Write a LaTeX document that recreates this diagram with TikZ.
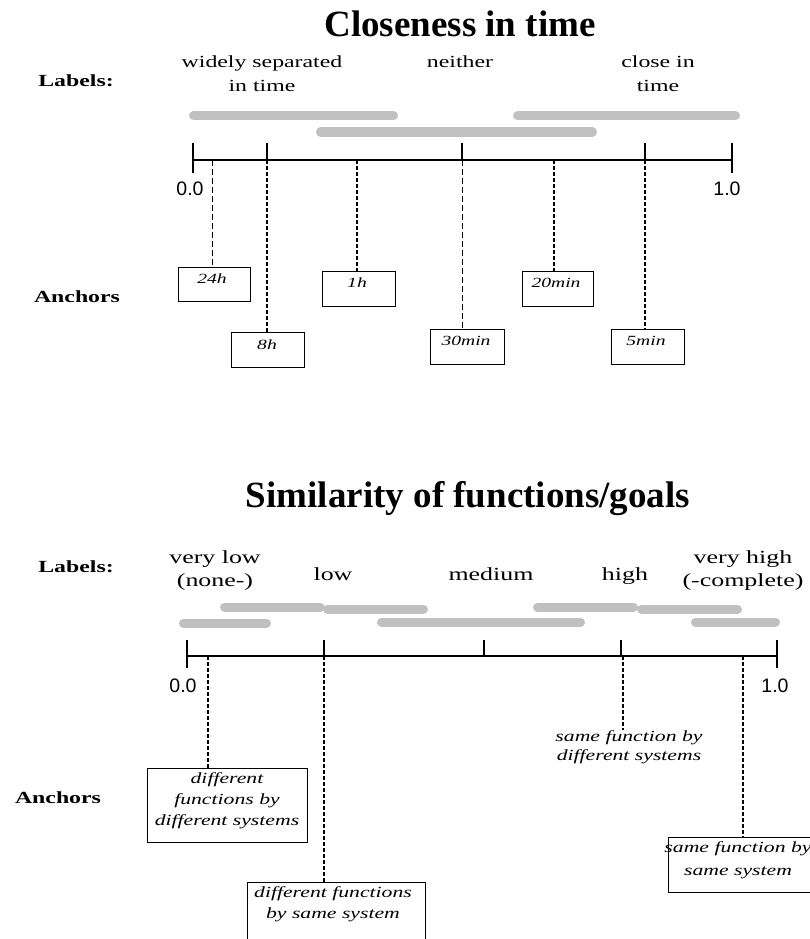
\documentclass[tikz,border=0pt]{standalone}
\usepackage{fontspec}
\setmainfont{Liberation Serif}
\newfontfamily\lblfont[FakeStretch=1.4]{Liberation Serif}
\newfontfamily\itfont[FakeStretch=1.4]{Liberation Serif}
\newfontfamily\numfont{Liberation Sans}
\definecolor{bargray}{RGB}{192,192,192}
\begin{document}
\begin{tikzpicture}[x=1pt,y=-1pt,
  bar/.style={line width=9pt, line cap=round, draw=bargray},
  axis/.style={line width=1.3pt},
  thickdash/.style={line width=2.2pt, dash pattern=on 4pt off 2pt},
  thindash/.style={line width=0.8pt, dash pattern=on 6pt off 3pt},
  abox/.style={draw, line width=1.2pt, inner sep=0pt, anchor=north west},
  ttl/.style={font=\fontsize{37}{40}\selectfont\bfseries, anchor=base, inner sep=0pt},
  lbl/.style={font=\lblfont\fontsize{17}{24}\selectfont, anchor=base, inner sep=0pt, align=center},
  lblb/.style={font=\lblfont\fontsize{18.5}{23}\selectfont, anchor=base, inner sep=0pt, align=center},
  head/.style={font=\lblfont\bfseries\fontsize{17}{24}\selectfont, anchor=base, inner sep=0pt},
  itx/.style={font=\itfont\itshape\fontsize{14}{20}\selectfont, anchor=base, inner sep=0pt},
  itb/.style={font=\itfont\itshape\fontsize{15.5}{21}\selectfont, anchor=base, inner sep=0pt, align=center},
  num/.style={font=\numfont\fontsize{19.5}{22}\selectfont, anchor=base, inner sep=0pt}]
\useasboundingbox (0,0) rectangle (810,939);

% ---------------- Closeness in time ----------------
\node[ttl] (t1) at (460,37) {Closeness in time};
\node[head] (lab1) at (76,87) {Labels:};
\node[lbl] (wst) at (262,92) {widely separated\\in time};
\node[lbl] (nei) at (460,68) {neither};
\node[lbl] (cit) at (658,92) {close in\\time};

\draw[bar] (193.5,116) -- (393.5,116);
\draw[bar] (320.5,132) -- (592.5,132);
\draw[bar] (517.5,116) -- (735.5,116);

\coordinate (L0) at (193,160);
\coordinate (L1) at (732,160);
\coordinate (p24) at (212,160);
\coordinate (p8) at (267,160);
\coordinate (p1) at (357,160);
\coordinate (p30) at (462,160);
\coordinate (p20) at (554,160);
\coordinate (p5) at (645,160);
\draw[axis] (L0) -- (L1);
\draw[axis] (193,143) -- (193,173);
\draw[axis] (732,143) -- (732,173);
\draw[axis] (267,143) -- (p8);
\draw[axis] (462,143) -- (p30);
\draw[axis] (645,143) -- (p5);
\node[num] (z1) at (190,195) {0.0};
\node[num] (o1) at (727,195) {1.0};

\node[head] (anc1) at (77,302) {Anchors};

\node[abox, minimum width=72pt, minimum height=34pt] (b24) at (178,267) {};
\node[abox, minimum width=73pt, minimum height=35pt] (b8) at (231,332) {};
\node[abox, minimum width=73pt, minimum height=35pt] (b1) at (322,271) {};
\node[abox, minimum width=74pt, minimum height=35pt] (b30) at (430,329) {};
\node[abox, minimum width=71pt, minimum height=35pt] (b20) at (522,271) {};
\node[abox, minimum width=73pt, minimum height=35pt] (b5) at (611,329) {};
\node[itx] (x24) at (212,283) {24h};
\node[itx] (x8) at (267,349) {8h};
\node[itx] (x1) at (357,287) {1h};
\node[itx] (x30) at (466,345) {30min};
\node[itx] (x20) at (556,287) {20min};
\node[itx] (x5) at (646,345) {5min};

\draw[thindash] (p24) -- (p24 |- b24.north);
\draw[thickdash] (p8) -- (p8 |- b8.north);
\draw[thickdash] (p1) -- (p1 |- b1.north);
\draw[thindash] (p30) -- (p30 |- b30.north);
\draw[thickdash] (p20) -- (p20 |- b20.north);
\draw[thickdash] (p5) -- (p5 |- b5.north);

% ---------------- Similarity of functions/goals ----------------
\node[ttl] (t2) at (468,507) {Similarity of functions/goals};
\node[head] (lab2) at (76,572) {Labels:};
\node[lblb] (vl) at (215,586) {very low\\(none-)};
\node[lblb] (lo) at (333,580) {low};
\node[lblb] (me) at (491,580) {medium};
\node[lblb] (hi) at (625,580) {high};
\node[lblb] (vh) at (743,586) {very high\\(-complete)};

\draw[bar] (224.5,607) -- (320.5,607);
\draw[bar] (327.5,609) -- (423.5,609);
\draw[bar] (537.5,607) -- (633.5,607);
\draw[bar] (641.5,609) -- (737.5,609);
\draw[bar] (183.5,623) -- (266.5,623);
\draw[bar] (381.5,622) -- (580.5,622);
\draw[bar] (695.5,622) -- (775.5,622);

\coordinate (M0) at (187,656);
\coordinate (M1) at (777,656);
\coordinate (q1) at (208,656);
\coordinate (q2) at (324,656);
\coordinate (q3) at (623,656);
\coordinate (q4) at (743,656);
\draw[axis] (M0) -- (M1);
\draw[axis] (187,640) -- (187,668);
\draw[axis] (777,640) -- (777,668);
\draw[axis] (324,640) -- (324,656);
\draw[axis] (484,640) -- (484,656);
\draw[axis] (621,640) -- (621,656);
\node[num] (z2) at (183,692) {0.0};
\node[num] (o2) at (775,692) {1.0};

\node[head] (anc2) at (58,803) {Anchors};

\node[abox, minimum width=160pt, minimum height=74pt] (B1) at (147,768) {};
\node[abox, minimum width=178pt, minimum height=57pt] (B2) at (247,882) {};
\node[abox, minimum width=145pt, minimum height=55pt] (B3) at (668,837) {};
\node[itb] (T1) at (227,825) {different\\functions by\\different systems};
\node[itb] (T2) at (333,918) {different functions\\by same system};
\node[itb, font=\itfont\itshape\fontsize{15.5}{19}\selectfont] (T4) at (629,760) {same function by\\different systems};
\node[itb, font=\itfont\itshape\fontsize{15.5}{23}\selectfont] (T3) at (738,875) {same function by\\same system};

\draw[thickdash] (q1) -- (q1 |- B1.north);
\draw[thickdash] (q2) -- (q2 |- B2.north);
\draw[thickdash] (q3) -- (q3 |- T4.north);
\draw[thickdash] (q4) -- (q4 |- B3.north);
\end{tikzpicture}
\end{document}
